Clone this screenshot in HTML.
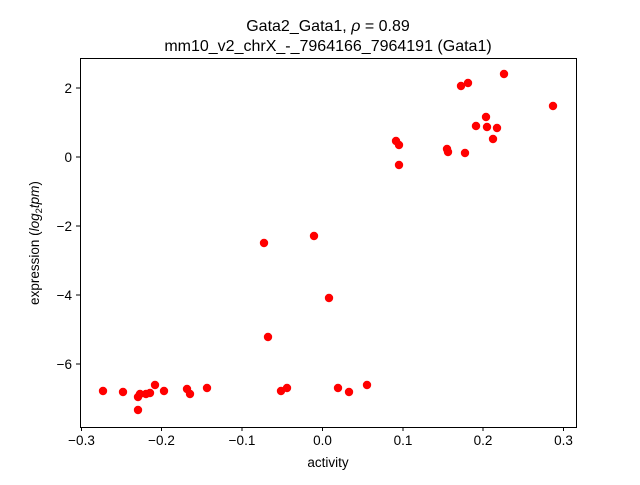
<!DOCTYPE html>
<html><head><meta charset="utf-8"><style>
body{margin:0;background:#fff;}
svg text{font-family:"Liberation Sans","DejaVu Sans",sans-serif;fill:#000;}
</style></head><body>
<svg width="640" height="480" xmlns="http://www.w3.org/2000/svg">
<rect width="640" height="480" fill="#fff"/>
<g fill="#ff0000">
<circle cx="103" cy="391" r="4.2"/><circle cx="123" cy="392" r="4.2"/><circle cx="138" cy="397" r="4.2"/><circle cx="138" cy="410" r="4.2"/><circle cx="140" cy="394" r="4.2"/><circle cx="146" cy="394" r="4.2"/><circle cx="150" cy="393" r="4.2"/><circle cx="155" cy="385" r="4.2"/><circle cx="164" cy="391" r="4.2"/><circle cx="187" cy="389" r="4.2"/><circle cx="190" cy="394" r="4.2"/><circle cx="207" cy="388" r="4.2"/><circle cx="264" cy="243" r="4.2"/><circle cx="268" cy="337" r="4.2"/><circle cx="281" cy="391" r="4.2"/><circle cx="287" cy="388" r="4.2"/><circle cx="314" cy="236" r="4.2"/><circle cx="329" cy="298" r="4.2"/><circle cx="338" cy="388" r="4.2"/><circle cx="349" cy="392" r="4.2"/><circle cx="367" cy="385" r="4.2"/><circle cx="396" cy="141" r="4.2"/><circle cx="399" cy="145" r="4.2"/><circle cx="399" cy="165" r="4.2"/><circle cx="447" cy="149" r="4.2"/><circle cx="448" cy="152" r="4.2"/><circle cx="465" cy="153" r="4.2"/><circle cx="461" cy="86" r="4.2"/><circle cx="468" cy="83" r="4.2"/><circle cx="476" cy="126" r="4.2"/><circle cx="486" cy="117" r="4.2"/><circle cx="487" cy="127" r="4.2"/><circle cx="493" cy="139" r="4.2"/><circle cx="497" cy="128" r="4.2"/><circle cx="504" cy="74" r="4.2"/><circle cx="553" cy="106" r="4.2"/>
</g>
<rect x="80.5" y="58.5" width="496" height="369" fill="none" stroke="#000" stroke-width="1"/>
<g stroke="#000" stroke-width="1">
<line x1="81.5" y1="427" x2="81.5" y2="431"/><line x1="161.5" y1="427" x2="161.5" y2="431"/><line x1="242" y1="427" x2="242" y2="431"/><line x1="322.5" y1="427" x2="322.5" y2="431"/><line x1="403" y1="427" x2="403" y2="431"/><line x1="483" y1="427" x2="483" y2="431"/><line x1="563.5" y1="427" x2="563.5" y2="431"/>
<line x1="76" y1="88" x2="80" y2="88"/><line x1="76" y1="157" x2="80" y2="157"/><line x1="76" y1="226" x2="80" y2="226"/><line x1="76" y1="295" x2="80" y2="295"/><line x1="76" y1="364" x2="80" y2="364"/>
</g>
<g font-size="13.5" text-anchor="middle">
<text x="81.5" y="445">−0.3</text><text x="161.5" y="445">−0.2</text><text x="242" y="445">−0.1</text><text x="322.5" y="445">0.0</text><text x="403" y="445">0.1</text><text x="483" y="445">0.2</text><text x="563.5" y="445">0.3</text>
</g>
<g font-size="13.5" text-anchor="end">
<text x="72" y="93">2</text><text x="72" y="162">0</text><text x="72" y="231">−2</text><text x="72" y="300">−4</text><text x="72" y="369">−6</text>
</g>
<text x="328" y="467" font-size="13.5" text-anchor="middle">activity</text>
<text transform="translate(39,243) rotate(-90)" font-size="13.5" text-anchor="middle">expression (<tspan font-style="italic">log</tspan><tspan font-size="9.5" dy="3">2</tspan><tspan dy="-3" font-style="italic">tpm</tspan>)</text>
<text x="328" y="31" font-size="16" text-anchor="middle">Gata2_Gata1, <tspan font-style="italic">ρ</tspan> = 0.89</text>
<text x="328" y="51" font-size="16" text-anchor="middle">mm10_v2_chrX_-_7964166_7964191 (Gata1)</text>
</svg>
</body></html>
